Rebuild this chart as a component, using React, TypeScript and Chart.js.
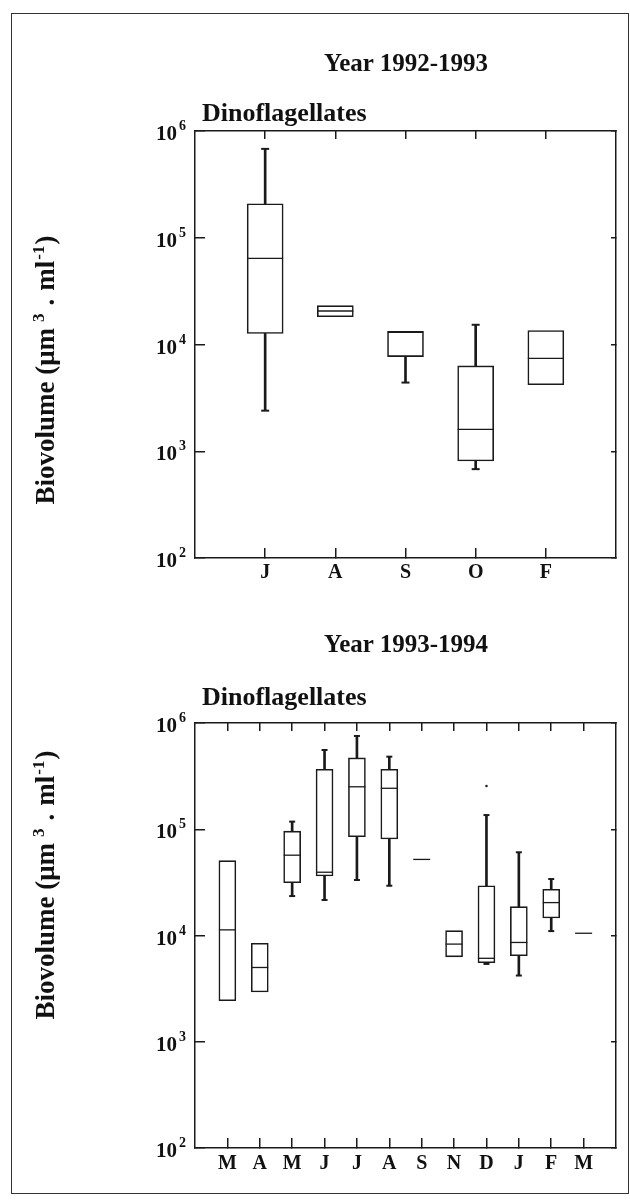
import React, { useEffect, useRef } from 'react';
import { Chart, registerables } from 'chart.js';

Chart.register(...registerables);

// ---------- data ----------
const yTickValues = [1e2, 1e3, 1e4, 1e5, 1e6];

// Year 1992-1993
const months9293 = ['J', 'A', 'S', 'O', 'F'];
const min9293 = [2400, null, 4400, 680, null];
const q1_9293 = [12700, 18200, 7700, 810, 4200];
const med9293 = [64000, 20600, 13200, 1600, 7400];
const q3_9293 = [208000, 23100, 13200, 6300, 13500];
const max9293 = [680000, null, null, 15300, null];
const out9293 = [null, null, null, null, null];

// Year 1993-1994
const months9394 = ['M', 'A', 'M', 'J', 'J', 'A', 'S', 'N', 'D', 'J', 'F', 'M'];
const min9394 = [null, null, 23500, 21600, 33300, 29400, null, null, 5400, 4200, 11000, null];
const q1_9394 = [2430, 2940, 31400, 36300, 85000, 81000, 52000, 6300, 5550, 6450, 14600, 10500];
const med9394 = [11300, 5000, 57000, 39400, 251000, 243000, 52000, 8300, 6100, 8600, 20400, 10500];
const q3_9394 = [50600, 8450, 96000, 367000, 469000, 367000, 52000, 11100, 29400, 18700, 27200, 10500];
const max9394 = [null, null, 118000, 557000, 755000, 482000, null, null, 136000, 60700, 34000, null];
const out9394 = [null, null, null, null, null, null, null, null, 255000, null, null, null];

const INK = '#1a1a1a';
const FONT = '"Liberation Serif", "Times New Roman", serif';
const CANVAS_W = 660;

const expLabels = {
  id: 'expLabels',
  afterDraw(chart: any) {
    const ys = chart.scales.y;
    const ctx = chart.ctx;
    const left = chart.chartArea.left;
    ctx.save();
    ctx.fillStyle = '#111';
    yTickValues.forEach((v) => {
      const py = ys.getPixelForValue(v);
      const e = Math.round(Math.log10(v));
      ctx.font = `bold 21px ${FONT}`;
      ctx.textAlign = 'right';
      ctx.textBaseline = 'alphabetic';
      ctx.fillText('10', left - 18, py + 9);
      ctx.font = `bold 14px ${FONT}`;
      ctx.textAlign = 'left';
      ctx.fillText(String(e), left - 16, py - 1);
    });
    ctx.restore();
  },
};

function pts(vals: any[]) {
  const out: any[] = [];
  vals.forEach((v, i) => {
    if (v != null) out.push({ x: i + 1, y: v });
  });
  return out;
}

function makeConfig(p: any) {
  const n = p.labels.length;
  const idx = Array.from({ length: n }, (_, i) => i);
  const grid = (tl: number) => ({
    display: true,
    drawOnChartArea: false,
    drawTicks: true,
    tickLength: tl,
    offset: false,
    color: INK,
    lineWidth: 1.5,
  });
  const border = { display: true, color: INK, width: 1.5 };
  const setYTicks = (s: any) => {
    s.ticks = yTickValues.map((v) => ({ value: v }));
  };
  const setXTicks = (s: any) => {
    s.ticks = p.labels.map((_: string, i: number) => ({ value: i + 1 }));
  };
  const lineSet = (vals: any[], extra: any) => ({
    type: 'line',
    data: pts(vals),
    showLine: false,
    pointBorderColor: INK,
    ...extra,
  });
  return {
    type: 'bar',
    data: {
      datasets: [
        {
          type: 'bar',
          data: idx.map((i) => ({ x: i + 1, y: [p.q1[i], p.q3[i]] })),
          backgroundColor: '#ffffff',
          borderColor: INK,
          borderWidth: 1.6,
          borderSkipped: false,
          barThickness: p.boxW,
          grouped: false,
          order: 2,
        },
        {
          type: 'bar',
          data: idx.filter((i) => p.max[i] != null).map((i) => ({ x: i + 1, y: [p.q3[i], p.max[i]] })),
          backgroundColor: INK,
          borderWidth: 0,
          barThickness: 2,
          grouped: false,
          order: 3,
        },
        {
          type: 'bar',
          data: idx.filter((i) => p.min[i] != null).map((i) => ({ x: i + 1, y: [p.min[i], p.q1[i]] })),
          backgroundColor: INK,
          borderWidth: 0,
          barThickness: 2,
          grouped: false,
          order: 3,
        },
        lineSet(p.max, { pointStyle: 'line', pointRadius: p.capR, pointBorderWidth: 2, order: 1 }),
        lineSet(p.min, { pointStyle: 'line', pointRadius: p.capR, pointBorderWidth: 2, order: 1 }),
        lineSet(p.med, { pointStyle: 'line', pointRadius: p.boxW / 2, pointBorderWidth: 1.3, order: 0 }),
        lineSet(p.out, {
          pointStyle: 'circle',
          pointRadius: 1.3,
          pointBorderWidth: 0,
          pointBackgroundColor: '#222',
          order: 0,
        }),
      ],
    },
    options: {
      responsive: false,
      animation: false,
      events: [],
      layout: { padding: 0 },
      plugins: { legend: { display: false }, tooltip: { enabled: false }, title: { display: false } },
      scales: {
        x: {
          type: 'linear',
          position: 'bottom',
          min: 0,
          max: n + 1,
          offset: false,
          grid: grid(-10),
          border,
          afterBuildTicks: setXTicks,
          ticks: {
            padding: p.labelPad,
            color: '#111',
            maxRotation: 0,
            autoSkip: false,
            font: { family: FONT, weight: 'bold', size: 20 },
            callback: (v: number) => p.labels[Math.round(v) - 1] ?? '',
          },
          afterFit: (s: any) => {
            s.height = p.bottomH;
          },
        },
        x2: {
          type: 'linear',
          position: 'top',
          min: 0,
          max: n + 1,
          offset: false,
          grid: grid(-8),
          border,
          afterBuildTicks: setXTicks,
          ticks: { display: false },
          afterFit: (s: any) => {
            s.height = p.topH;
          },
        },
        y: {
          type: 'logarithmic',
          position: 'left',
          min: 100,
          max: 1e6,
          grid: grid(-10),
          border,
          ticks: { display: false },
          afterBuildTicks: setYTicks,
          afterFit: (s: any) => {
            s.width = 195;
          },
        },
        y2: {
          type: 'logarithmic',
          position: 'right',
          min: 100,
          max: 1e6,
          grid: grid(-5),
          border,
          ticks: { display: false },
          afterBuildTicks: setYTicks,
          afterFit: (s: any) => {
            s.width = CANVAS_W - 616;
          },
        },
      },
    },
    plugins: [expLabels],
  };
}

function BoxChart(props: any) {
  const ref = useRef<HTMLCanvasElement>(null);
  useEffect(() => {
    const chart = new Chart(ref.current as any, makeConfig(props.cfg) as any);
    return () => chart.destroy();
  }, []);
  return (
    <canvas
      ref={ref}
      width={CANVAS_W}
      height={props.h}
      style={{ position: 'absolute', left: 0, top: props.top, width: CANVAS_W, height: props.h }}
    />
  );
}

const titleStyle: any = {
  position: 'absolute',
  transform: 'translate(-50%, -50%)',
  font: `bold 25px ${FONT}`,
  whiteSpace: 'nowrap',
  color: '#111',
  lineHeight: 1,
};
const subStyle: any = {
  position: 'absolute',
  transform: 'translate(0, -50%)',
  font: `bold 26px ${FONT}`,
  whiteSpace: 'nowrap',
  color: '#111',
  lineHeight: 1,
};
const yTitleStyle: any = {
  position: 'absolute',
  transform: 'translate(-50%, -50%) rotate(-90deg)',
  font: `bold 27px ${FONT}`,
  whiteSpace: 'nowrap',
  color: '#111',
  lineHeight: 1,
};
const supStyle: any = { fontSize: '17px', verticalAlign: '10px', lineHeight: 0 };

function YTitle(props: any) {
  return (
    <div style={{ ...yTitleStyle, left: 45, top: props.top }}>
      Biovolume (μm
      <span style={{ ...supStyle, marginLeft: 6, marginRight: 8 }}>3</span>.
      <span style={{ marginLeft: 8 }}>ml</span>
      <span style={{ ...supStyle, marginLeft: 1, marginRight: 1 }}>-1</span>)
    </div>
  );
}

export default function App() {
  return (
    <div
      style={{
        position: 'absolute',
        left: 0,
        top: 0,
        width: 630,
        height: 1204,
        background: '#fff',
        overflow: 'hidden',
      }}
    >
      <div
        style={{
          position: 'absolute',
          left: 11,
          top: 13,
          width: 618,
          height: 1181,
          border: '1.5px solid #333',
          boxSizing: 'border-box',
        }}
      />
      <BoxChart
        top={0}
        h={600}
        cfg={{
          labels: months9293,
          min: min9293,
          q1: q1_9293,
          med: med9293,
          q3: q3_9293,
          max: max9293,
          out: out9293,
          boxW: 36,
          capR: 4,
          labelPad: 13,
          topH: 131,
          bottomH: 42,
        }}
      />
      <BoxChart
        top={600}
        h={604}
        cfg={{
          labels: months9394,
          min: min9394,
          q1: q1_9394,
          med: med9394,
          q3: q3_9394,
          max: max9394,
          out: out9394,
          boxW: 17,
          capR: 3,
          labelPad: 14,
          topH: 123,
          bottomH: 56,
        }}
      />
      <div style={{ ...titleStyle, left: 406, top: 62 }}>Year 1992-1993</div>
      <div style={{ ...subStyle, left: 202, top: 113 }}>Dinoflagellates</div>
      <div style={{ ...titleStyle, left: 406, top: 643 }}>Year 1993-1994</div>
      <div style={{ ...subStyle, left: 202, top: 697 }}>Dinoflagellates</div>
      <YTitle top={370} />
      <YTitle top={885} />
    </div>
  );
}
